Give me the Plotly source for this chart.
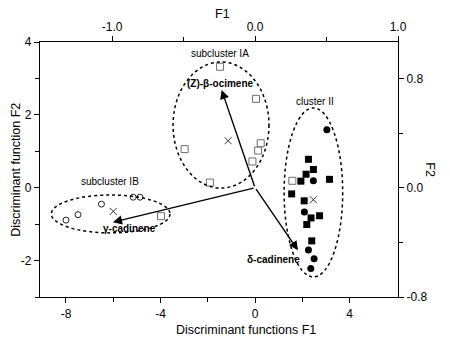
import plotly.graph_objects as go

# ---- data (discriminant scores, F1 / F2) ----
ia_x = [-1.48, 0.04, 0.24, 0.13, -0.11, -2.98, -1.91]
ia_y = [3.32, 2.44, 1.22, 1.02, 0.72, 1.06, 0.14]

ib_circ_x = [-8.0, -7.49, -6.5, -5.16, -4.87]
ib_circ_y = [-0.89, -0.74, -0.45, -0.26, -0.26]
ib_sq_x = [-3.98]
ib_sq_y = [-0.78]

ii_sq_x = [2.26, 2.47, 2.16, 1.94, 3.15, 1.55, 2.08, 2.37, 2.73, 2.19, 2.40]
ii_sq_y = [0.78, 0.50, 0.37, 0.18, 0.23, -0.17, -0.36, -0.83, -0.77, -1.01, -1.46]
ii_circ_x = [3.04, 2.47, 2.09, 2.26, 2.50, 2.36]
ii_circ_y = [1.59, 0.19, -0.67, -1.71, -1.95, -2.22]
ii_open_x = [1.58]
ii_open_y = [0.19]

centroid_x = [-1.14, -6.0, 2.47]
centroid_y = [1.29, -0.65, -0.33]

# ---- loadings (top/right axes) ----
load_names = ["(Z)-\u03b2-ocimene", "\u03b3-cadinene", "\u03b4-cadinene"]
load_x = [-0.234, -0.994, 0.300]
load_y = [0.716, -0.252, -0.458]

# ---- group ellipses: centre and semi-axes ----
ell_names = ["subcluster IA", "subcluster IB", "cluster II"]
ell_cx = [-1.44, -6.11, 2.47]
ell_cy = [1.72, -0.72, -0.13]
ell_rx = [2.03, 2.51, 1.24]
ell_ry = [1.73, 0.52, 2.32]

XR = [-9.1, 6.05]
YR = [-3.0, 4.0]
XR2 = [XR[0] / 6.05, XR[1] / 6.05]
YR2 = [YR[0] * 0.8 / 3.0, YR[1] * 0.8 / 3.0]

fig = go.Figure()

GRAY = "#6e6e6e"
fig.add_trace(go.Scatter(x=ia_x, y=ia_y, mode="markers",
                         marker=dict(symbol="square-open", size=7, color=GRAY, line=dict(width=1))))
fig.add_trace(go.Scatter(x=ib_circ_x, y=ib_circ_y, mode="markers",
                         marker=dict(symbol="circle-open", size=6, color="#222", line=dict(width=1))))
fig.add_trace(go.Scatter(x=ib_sq_x + ii_open_x, y=ib_sq_y + ii_open_y, mode="markers",
                         marker=dict(symbol="square-open", size=7, color=GRAY, line=dict(width=1))))
fig.add_trace(go.Scatter(x=ii_sq_x, y=ii_sq_y, mode="markers",
                         marker=dict(symbol="square", size=7, color="black")))
fig.add_trace(go.Scatter(x=ii_circ_x, y=ii_circ_y, mode="markers",
                         marker=dict(symbol="circle", size=7, color="black")))
fig.add_trace(go.Scatter(x=centroid_x, y=centroid_y, mode="markers",
                         marker=dict(symbol="x-thin-open", size=7, color="#333", line=dict(width=1))))
# invisible trace to activate top/right axes
fig.add_trace(go.Scatter(x=[0], y=[0], xaxis="x2", yaxis="y2", mode="markers",
                         marker=dict(size=1, color="rgba(0,0,0,0)"), hoverinfo="skip"))

shapes = []
for cx, cy, rx, ry in zip(ell_cx, ell_cy, ell_rx, ell_ry):
    shapes.append(dict(type="circle", xref="x", yref="y",
                       x0=cx - rx, x1=cx + rx, y0=cy - ry, y1=cy + ry,
                       line=dict(color="black", width=1.5, dash="dot")))

annotations = []
for name, lx, ly in zip(load_names, load_x, load_y):
    annotations.append(dict(x=lx, y=ly, ax=0, ay=0, xref="x2", yref="y2",
                            axref="x2", ayref="y2", text="", showarrow=True,
                            arrowhead=2, arrowsize=1.3, arrowwidth=1.4, arrowcolor="black"))

label_pos = [(-1.45, 2.86), (-5.3, -1.12), (0.78, -1.97)]
for name, (px, py) in zip(load_names, label_pos):
    annotations.append(dict(x=px, y=py, xref="x", yref="y", text="<b>" + name + "</b>",
                            showarrow=False, font=dict(size=10, color="black")))

ell_label_pos = [(-1.48, 3.69), (-6.14, 0.16), (2.54, 2.37)]
for name, (px, py) in zip(ell_names, ell_label_pos):
    annotations.append(dict(x=px, y=py, xref="x", yref="y", text=name,
                            showarrow=False, font=dict(size=10, color="black")))

# axis titles
annotations += [
    dict(x=0.575, y=-0.128, xref="paper", yref="paper", text="Discriminant functions F1",
         showarrow=False, font=dict(size=12.5), xanchor="center", yanchor="middle"),
    dict(x=0.51, y=1.108, xref="paper", yref="paper", text="F1",
         showarrow=False, font=dict(size=12.5), xanchor="center", yanchor="middle"),
    dict(x=-0.069, y=0.5, xref="paper", yref="paper", text="Discriminant function F2",
         showarrow=False, font=dict(size=12.5), textangle=-90, xanchor="center", yanchor="middle",
         borderpad=0),
    dict(x=1.09, y=0.5, xref="paper", yref="paper", text="F2",
         showarrow=False, font=dict(size=12.5), textangle=90, xanchor="center", yanchor="middle"),
]

axis_common = dict(showline=True, linecolor="black", linewidth=1.2, ticks="outside",
                   ticklen=5, tickwidth=1.2, tickcolor="black", showgrid=False,
                   zeroline=False, tickfont=dict(size=12, color="black"))

# the page adds an 8 px body margin, so the figure is 8 px smaller with 8 px less left/top margin
fig.update_layout(
    width=442, height=330,
    margin=dict(l=32, r=52, t=30, b=41),
    paper_bgcolor="white", plot_bgcolor="white",
    showlegend=False,
    font=dict(family="Liberation Sans, Arial, sans-serif", color="black"),
    xaxis=dict(range=XR, tickvals=[-8, -4, 0, 4], ticktext=["-8", "-4", "0", "4"],
               minor=dict(tickvals=[-6, -2, 2], ticks="outside", ticklen=4, tickcolor="black"),
               **axis_common),
    yaxis=dict(range=YR, tickvals=[-2, 0, 2, 4], ticktext=["-2", "0", "2", "4"],
               minor=dict(tickvals=[-3, -1, 1, 3], ticks="outside", ticklen=4, tickcolor="black"),
               **axis_common),
    xaxis2=dict(range=XR2, overlaying="x", side="top", anchor="y",
                tickvals=[-1.0, 0.0, 1.0], ticktext=["-1.0", "0.0", "1.0"],
                minor=dict(tickvals=[-0.5, 0.5], ticks="outside", ticklen=4, tickcolor="black"),
                **axis_common),
    yaxis2=dict(range=YR2, overlaying="y", side="right", anchor="x",
                tickvals=[-0.8, 0.0, 0.8], ticktext=["-0.8", "0.0", "0.8"],
                minor=dict(tickvals=[-0.4, 0.4], ticks="outside", ticklen=4, tickcolor="black"),
                **axis_common),
    shapes=shapes,
    annotations=annotations,
)

fig.write_html("out.html")
